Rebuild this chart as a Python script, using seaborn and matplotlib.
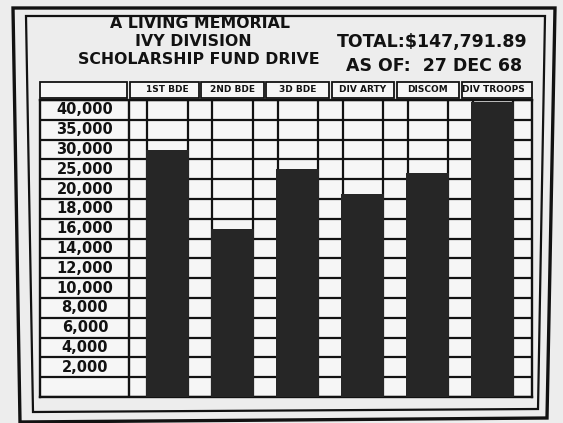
import numpy as np
import matplotlib.pyplot as plt
import matplotlib.transforms as mtransforms
from matplotlib.patches import Rectangle, Polygon
import seaborn as sns

# units on the fund drive board and money raised
units = ["1ST BDE", "2ND BDE", "3D BDE", "DIV ARTY", "DISCOM", "DIV TROOPS"]
raised = [32400, 17000, 27700, 21300, 26500, 44600]

# row labels on the board, top to bottom (last row is blank)
row_labels = ["40,000", "35,000", "30,000", "25,000", "20,000", "18,000", "16,000",
              "14,000", "12,000", "10,000", "8,000", "6,000", "4,000", "2,000", ""]
# value at the lower edge of each row, same order
row_floor = [40000, 35000, 30000, 25000, 20000, 18000, 16000,
             14000, 12000, 10000, 8000, 6000, 4000, 2000, 0]
board_top = 45000

title_lines = ["A LIVING MEMORIAL", "IVY DIVISION", "SCHOLARSHIP FUND DRIVE"]
total_text = "TOTAL:$147,791.89"
date_text = "AS OF:  27 DEC 68"

paper = "#ededed"
cell = "#f6f6f6"
ink = "#121212"
bar_col = "#262626"

sns.set_style("white")
plt.rcParams["font.family"] = ["DejaVu Sans"]

# the board rows are evenly spaced but the values are not -> piecewise scale
bounds = np.array(row_floor[::-1] + [board_top], dtype=float)
rows = np.arange(len(bounds), dtype=float)

def fwd(v):
    return np.interp(v, bounds, rows)

def inv(p):
    return np.interp(p, rows, bounds)

W, H = 563, 423
fig = plt.figure(figsize=(W / 100, H / 100), dpi=100, facecolor=paper)

def px(x0, y0, x1, y1):
    # pixel box (from top-left) -> figure fraction rect
    return [x0 / W, 1 - y1 / H, (x1 - x0) / W, (y1 - y0) / H]

ax = fig.add_axes(px(40, 100, 532, 397))
ax.set_facecolor(cell)

sns.barplot(x=units, y=raised, color=bar_col, saturation=1, width=0.66,
            errorbar=None, ax=ax, zorder=3, edgecolor=bar_col, linewidth=0)

ax.set_yscale("function", functions=(fwd, inv))
ax.set_ylim(0, board_top)
ax.set_xlim(-1.96, 5.6)
ax.set_yticks([])
ax.set_ylabel("")
ax.set_xlabel("")

# grid of the board
for b in bounds:
    ax.axhline(b, color=ink, lw=1.6, zorder=1)
ax.axvline(-0.59, color=ink, lw=1.7, zorder=1)
for i in range(len(units)):
    ax.axvline(i - 0.31, color=ink, lw=1.6, zorder=1)
    ax.axvline(i + 0.31, color=ink, lw=1.6, zorder=1)
for s in ax.spines.values():
    s.set_color(ink)
    s.set_linewidth(1.7)

# row labels in the left column
ceil = [board_top] + row_floor[:-1]
for lab, lo, hi in zip(row_labels, row_floor, ceil):
    ax.text(-1.27, (lo + hi) / 2, lab, ha="center", va="center",
            fontsize=10.5, fontweight="bold", color=ink, zorder=4)

# header boxes above the columns
ax.xaxis.tick_top()
ax.tick_params(axis="x", length=0, pad=4.5, labelsize=6.5, colors=ink)
for t in ax.get_xticklabels():
    t.set_fontweight("bold")
trans = mtransforms.blended_transform_factory(ax.transData, ax.transAxes)
box_l = [-1.96, -0.57] + [i - 0.48 for i in range(1, len(units))]
box_r = [-0.62] + [i + 0.48 for i in range(len(units) - 1)] + [5.6]
for l, r in zip(box_l, box_r):
    ax.add_patch(Rectangle((l, 1.006), r - l, 0.054, transform=trans,
                           clip_on=False, fc=cell, ec=ink, lw=1.3, zorder=0))

# titles
for k, (line, xc) in enumerate(zip(title_lines, [200, 193, 199])):
    fig.text(xc / W, 1 - (24 + 17.5 * k) / H, line, ha="center", va="center",
             fontsize=11.3, fontweight="bold", color=ink)
fig.text(432 / W, 1 - 42 / H, total_text, ha="center", va="center",
         fontsize=12.5, fontweight="bold", color=ink)
fig.text(434 / W, 1 - 66 / H, date_text, ha="center", va="center",
         fontsize=12.5, fontweight="bold", color=ink)

# double frame round the board
outer = [(13, 8), (555, 8), (547, 418), (20, 422)]
inner = [(26, 16), (545, 16), (538, 409), (33, 412)]
for pts, lw in [(outer, 2.4), (inner, 1.6)]:
    fig.add_artist(Polygon([(x / W, 1 - y / H) for x, y in pts], closed=True,
                           fill=False, ec=ink, lw=lw, transform=fig.transFigure))

fig.savefig("out.png", dpi=100, facecolor=paper)
